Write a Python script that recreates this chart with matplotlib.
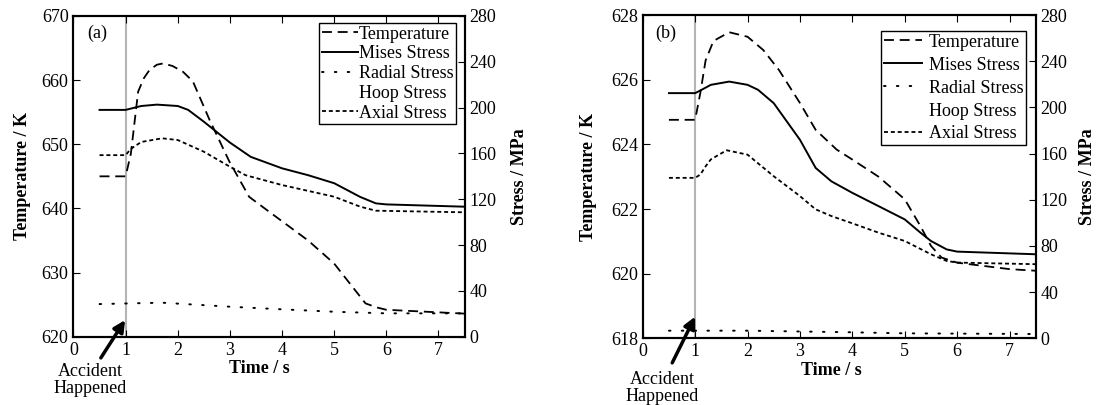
import numpy as np
import matplotlib
matplotlib.use('Agg')
import matplotlib.pyplot as plt
from matplotlib.lines import Line2D

plt.rcParams['font.family'] = ['Liberation Serif', 'DejaVu Serif']
plt.rcParams['font.size'] = 13
plt.rcParams['xtick.direction'] = 'in'
plt.rcParams['ytick.direction'] = 'in'

# ---- panel (a) data ----
t_temp_a = [0.5, 1.0, 1.1, 1.24, 1.35, 1.46, 1.6, 1.72, 1.9, 2.1, 2.29, 2.61,
            2.99, 3.37, 3.7, 4.0, 4.5, 5.0, 5.3, 5.6, 5.8, 6.0, 7.5]
temp_a = [645.0, 645.0, 648.5, 658.2, 660.3, 661.6, 662.4, 662.6, 662.2, 661.3,
          659.8, 653.8, 647.3, 641.8, 639.8, 638.0, 635.0, 631.4, 628.3, 625.2,
          624.6, 624.2, 623.6]

t_mises_a = [0.5, 1.0, 1.3, 1.6, 2.0, 2.2, 2.5, 3.0, 3.4, 4.0, 4.5, 5.0, 5.5,
             5.8, 6.0, 7.5]
mises_a = [198, 198, 201.4, 202.6, 201.4, 198, 187.7, 169.5, 157, 147, 141, 134,
           122, 116.4, 115.5, 113.5]

t_axial_a = [0.5, 1.0, 1.1, 1.3, 1.7, 2.0, 2.5, 3.0, 3.3, 4.0, 5.0, 5.5, 5.8, 7.5]
axial_a = [158.5, 158.5, 164, 170, 173.2, 171.7, 161.5, 148.4, 141, 132.4,
           122.2, 113.5, 110, 108.6]

t_radial_a = [0.5, 1.7, 3.0, 4.0, 5.0, 6.0, 7.5]
radial_a = [28.5, 29.7, 26.2, 23.9, 21.8, 20.4, 20.4]

# ---- panel (b) data ----
t_temp_b = [0.5, 1.0, 1.1, 1.2, 1.35, 1.65, 2.0, 2.3, 2.6, 3.0, 3.3, 3.7, 4.0,
            4.5, 5.0, 5.3, 5.5, 5.7, 6.0, 7.0, 7.5]
temp_b = [624.76, 624.76, 625.6, 626.6, 627.2, 627.47, 627.33, 626.92, 626.3,
          625.28, 624.45, 623.84, 623.53, 623.0, 622.3, 621.47, 620.86, 620.5,
          620.34, 620.14, 620.09]

t_mises_b = [0.5, 1.0, 1.1, 1.3, 1.65, 2.0, 2.2, 2.5, 3.0, 3.3, 3.6, 4.0, 4.5,
             5.0, 5.3, 5.5, 5.8, 6.0, 7.5]
mises_b = [212.4, 212.4, 214.7, 219.6, 222.4, 219.6, 215.3, 203.7, 172, 147.6,
           136, 126, 114.5, 103, 91.5, 84.3, 77, 75.1, 72.8]

t_axial_b = [0.5, 1.0, 1.1, 1.2, 1.3, 1.6, 2.0, 2.5, 3.0, 3.3, 3.6, 4.0, 4.5,
             5.0, 5.5, 5.8, 6.0, 7.5]
axial_b = [139, 139, 141.9, 149, 155, 162.9, 159.1, 140.4, 123.2, 111.7, 105.9,
           99.6, 91.5, 84.3, 72.8, 67, 65.6, 64.2]

t_radial_b = [0.5, 2.0, 4.0, 5.0, 7.5]
radial_b = [6.6, 6.6, 5.2, 4.3, 3.7]

labels = ['Temperature', 'Mises Stress', 'Radial Stress', 'Hoop Stress', 'Axial Stress']


def panel(rect, tag, tag_xy, tlim, tticks, temp, mises, axial, radial,
          legspace, legpad, leg_anchor, handlelen, pads, xlab_x,
          arrow_head, arrow_tail, text_xy):
    ax = fig.add_axes(rect)
    ax2 = ax.twinx()
    ax.axvline(1.0, color='#b4b4b4', lw=1.5, zorder=0)
    l1, = ax.plot(*temp, color='k', lw=1.3, dashes=(5.5, 3.2))
    l2, = ax2.plot(*mises, color='k', lw=1.4)
    l3, = ax2.plot(*radial, color='k', lw=1.4, dashes=(0.8, 5.8),
                   dash_capstyle='round')
    l4 = Line2D([], [], linestyle='none')
    l5, = ax2.plot(*axial, color='k', lw=1.3, dashes=(2.2, 1.6))

    ax.set_xlim(0, 7.5)
    ax.set_xticks(range(8))
    ax.set_ylim(*tlim)
    ax.set_yticks(tticks)
    ax2.set_ylim(0, 280)
    ax2.set_yticks(range(0, 281, 40))
    ax.tick_params(top=True, length=5, labelsize=13)
    ax2.tick_params(length=5, labelsize=13)
    ax.set_xlabel('Time / s', fontweight='bold', fontsize=13, labelpad=1, x=xlab_x)
    ax.set_ylabel('Temperature / K', fontweight='bold', fontsize=13, labelpad=pads[0])
    ax2.set_ylabel('Stress / MPa', fontweight='bold', fontsize=13, labelpad=pads[1])
    for a in (ax, ax2):
        for s in a.spines.values():
            s.set_linewidth(1.5)
    ax.text(*tag_xy, tag, transform=ax.transAxes, ha='left', va='top',
            fontsize=13)

    leg = ax2.legend([l1, l2, l3, l4, l5], labels, loc='upper right',
                     bbox_to_anchor=leg_anchor, borderaxespad=0,
                     fontsize=13, frameon=True, fancybox=False,
                     edgecolor='k', framealpha=1, handlelength=handlelen,
                     handletextpad=legpad, labelspacing=legspace,
                     borderpad=0.15)
    leg.get_frame().set_linewidth(1.0)

    ax.annotate('', xy=arrow_head, xycoords='data', xytext=arrow_tail,
                textcoords='axes fraction',
                arrowprops=dict(arrowstyle='-|>', color='k', lw=2.5,
                                mutation_scale=17, shrinkA=0, shrinkB=0),
                annotation_clip=False)
    ax.text(*text_xy, 'Accident\nHappened', transform=ax.transAxes,
            ha='center', va='top', fontsize=13, linespacing=1.0)


fig = plt.figure(figsize=(11, 4.05), dpi=100)

panel([0.0668, 0.1686, 0.3555, 0.792], '(a)', (0.034, 0.972),
      (620, 670), range(620, 671, 10),
      (t_temp_a, temp_a), (t_mises_a, mises_a), (t_axial_a, axial_a),
      (t_radial_a, radial_a), 0.15, 0.05, (0.978, 0.978), 2.0, (7.6, 10.3),
      0.475, (0.99, 622.6), (0.07, -0.066), (0.042, -0.082))

panel([0.5843, 0.1647, 0.3573, 0.798], '(b)', (0.031, 0.969),
      (618, 628), range(618, 629, 2),
      (t_temp_b, temp_b), (t_mises_b, mises_b), (t_axial_b, axial_b),
      (t_radial_b, radial_b), 0.33, 0.37, (0.975, 0.951), 2.1, (10.3, 8.5),
      0.48, (1.0, 618.67), (0.075, -0.076), (0.049, -0.10))

fig.savefig('out.png', dpi=100)
